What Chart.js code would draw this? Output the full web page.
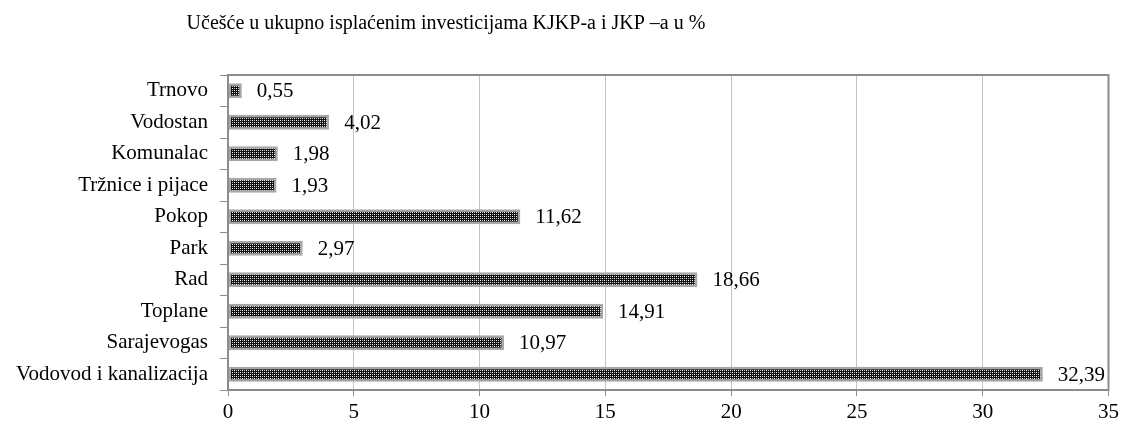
<!DOCTYPE html>
<html>
<head>
<meta charset="utf-8">
<script src="https://cdn.jsdelivr.net/npm/chart.js@4/dist/chart.umd.min.js"></script>
<style>
  html, body { margin: 0; padding: 0; background: #fff; }
  #wrap { width: 1123px; height: 423px; }
</style>
</head>
<body>
<div id="wrap"><canvas id="chart_invest"></canvas></div>
<script>
const categories = ['Trnovo', 'Vodostan', 'Komunalac', 'Tržnice i pijace', 'Pokop', 'Park', 'Rad', 'Toplane', 'Sarajevogas', 'Vodovod i kanalizacija'];
const shares = [0.55, 4.02, 1.98, 1.93, 11.62, 2.97, 18.66, 14.91, 10.97, 32.39];
const chartTitle = 'Učešće u ukupno isplaćenim investicijama KJKP-a i JKP –a u %';

const FONT = '"Liberation Serif", "Times New Roman", serif';

// dotted fill like the original
function makePattern() {
    const c = document.createElement('canvas');
    c.width = 4; c.height = 4;
    const g = c.getContext('2d');
    g.fillStyle = '#111';
    g.fillRect(0, 0, 4, 4);
    g.fillStyle = '#fff';
    g.fillRect(0, 0, 1, 1);
    g.fillRect(2, 2, 1, 1);
    g.fillStyle = '#bbb';
    g.fillRect(2, 0, 1, 1);
    g.fillRect(0, 2, 1, 1);
    return g.createPattern(c, 'repeat');
}

const extras = {
    id: 'extras',
    afterDraw(chart) {
        const ctx = chart.ctx;
        const a = chart.chartArea;
        ctx.save();
        ctx.strokeStyle = '#8c8c8c';
        ctx.lineWidth = 2;
        ctx.strokeRect(a.left, a.top, a.right - a.left, a.bottom - a.top);

        ctx.fillStyle = '#000';
        ctx.font = '20px ' + FONT;
        ctx.textAlign = 'center';
        ctx.textBaseline = 'alphabetic';
        ctx.fillText(chartTitle, 446, 29);

        ctx.font = '21px ' + FONT;
        ctx.textAlign = 'left';
        ctx.textBaseline = 'middle';
        const meta = chart.getDatasetMeta(0);
        meta.data.forEach((bar, i) => {
            ctx.fillText(shares[i].toFixed(2).replace('.', ','), bar.x + 15, bar.y + 1);
        });
        ctx.restore();
    }
};

document.addEventListener('DOMContentLoaded', function () {
    const ctx = document.getElementById('chart_invest');
    new Chart(ctx, {
        type: 'bar',
        data: {
            labels: categories,
            datasets: [{
                data: shares,
                backgroundColor: makePattern(),
                borderColor: '#a8a8a8',
                borderWidth: 2.5,
                borderSkipped: false,
                barPercentage: 0.5,
                categoryPercentage: 0.95
            }]
        },
        options: {
            indexAxis: 'y',
            responsive: true,
            maintainAspectRatio: false,
            animation: false,
            layout: { padding: { top: 75, right: 13, left: 0, bottom: 0 } },
            plugins: {
                legend: { display: false },
                title: { display: false },
                tooltip: { enabled: false }
            },
            scales: {
                x: {
                    min: 0,
                    max: 35,
                    ticks: { stepSize: 5, color: '#000', font: { family: FONT, size: 21 }, padding: 4 },
                    grid: { color: '#c4c4c4', lineWidth: 1, tickLength: 6, tickColor: '#8c8c8c' },
                    border: { display: false },
                    afterFit: s => { s.height = 33; }
                },
                y: {
                    ticks: { color: '#000', font: { family: FONT, size: 21 }, padding: 12 },
                    grid: { drawOnChartArea: false, tickLength: 8, color: '#8c8c8c' },
                    border: { display: false },
                    afterFit: s => { s.width = 228; }
                }
            }
        },
        plugins: [extras]
    });
});
</script>
</body>
</html>
